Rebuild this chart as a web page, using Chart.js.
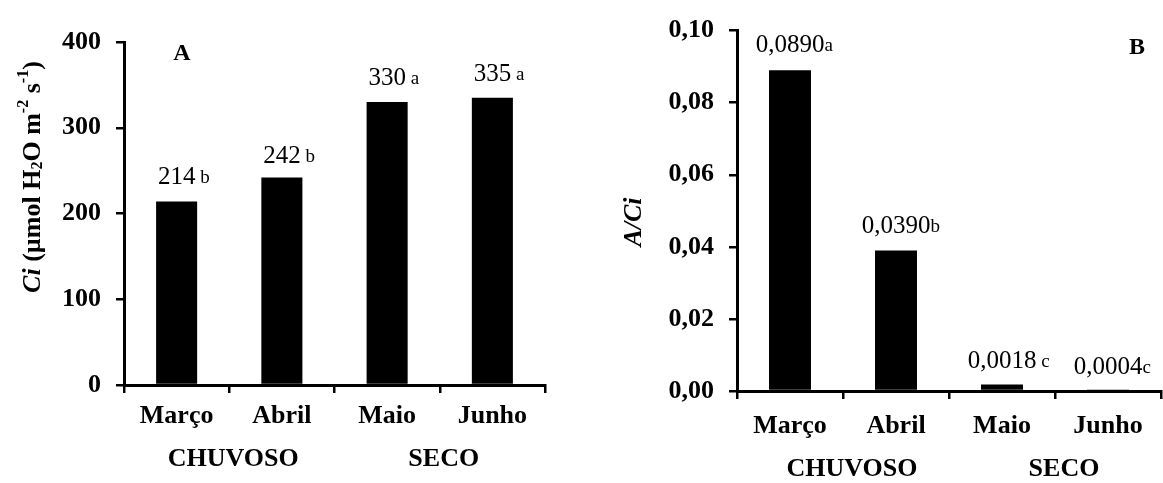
<!DOCTYPE html>
<html lang="pt-br">
<head>
  <meta charset="UTF-8" />
  <title>Ci e A/Ci - Março a Junho</title>
  <style>
    body { margin: 0; background: #fff; }
    .grafico { position: absolute; top: 0; }
  </style>
</head>
<body>
  <div class="grafico" style="left:0"><canvas id="graficoCi" width="580" height="483"></canvas></div>
  <div class="grafico" style="left:580px"><canvas id="graficoACi" width="583" height="483"></canvas></div>

<script src="https://cdn.jsdelivr.net/npm/chart.js"></script>
<script>
  const meses = ['Março', 'Abril', 'Maio', 'Junho'];
  const estacoes = ['CHUVOSO', 'SECO'];

  const valoresCi = [214, 242, 330, 335];
  const letrasCi = [' b', ' b', ' a', ' a'];
  const ticksCi = [0, 100, 200, 300, 400];

  const valoresACi = [0.0890, 0.0390, 0.0018, 0.0004];
  const letrasACi = ['a', 'b', ' c', 'c'];
  const ticksACi = [0, 0.02, 0.04, 0.06, 0.08, 0.10];

  const serif = "'Liberation Serif', 'Times New Roman', serif";

  // desenha um texto com partes em itálico / sub / sobrescrito, centrado em x
  function desenharRico(ctx, partes, tamanho) {
    const fonte = p => {
      const t = (p.sup || p.sub) ? tamanho * 0.62 : tamanho;
      return (p.i ? 'italic ' : '') + 'bold ' + t + 'px ' + serif;
    };
    let total = 0;
    partes.forEach(p => { ctx.font = fonte(p); total += ctx.measureText(p.t).width; });
    let x = -total / 2;
    partes.forEach(p => {
      ctx.font = fonte(p);
      let dy = 0;
      if (p.sup) dy = -tamanho * 0.36;
      if (p.sub) dy = tamanho * 0.2;
      ctx.fillText(p.t, x, dy);
      x += ctx.measureText(p.t).width;
    });
  }

  const pluginRotulos = {
    id: 'rotulos',
    afterDraw(chart, args, op) {
      const ctx = chart.ctx;
      const meta = chart.getDatasetMeta(0);
      const xs = chart.scales.x;
      ctx.save();
      ctx.fillStyle = '#000';
      ctx.textBaseline = 'alphabetic';

      // valores em cima das barras
      meta.data.forEach((barra, i) => {
        const txt = op.formato(chart.data.datasets[0].data[i]);
        ctx.font = op.tamValor + 'px ' + serif;
        const w = ctx.measureText(txt).width;
        ctx.textAlign = 'left';
        const y = barra.y - op.acima[i];
        ctx.fillText(txt, barra.x - w / 2, y);
        ctx.font = op.tamLetra + 'px ' + serif;
        ctx.fillText(op.letras[i], barra.x + w / 2, y - 1);
      });

      // estações
      ctx.font = 'bold 26px ' + serif;
      ctx.textAlign = 'center';
      ctx.textBaseline = 'middle';
      estacoes.forEach((e, k) => {
        const cx = (xs.getPixelForValue(2 * k) + xs.getPixelForValue(2 * k + 1)) / 2 + op.desvioEstacao;
        ctx.fillText(e, cx, op.estacaoY);
      });

      // letra do painel
      ctx.font = 'bold 24px ' + serif;
      ctx.fillText(op.painel, op.painelX, op.painelY);

      // título do eixo y (rotacionado)
      ctx.translate(op.tituloX, op.tituloY);
      ctx.rotate(-Math.PI / 2);
      ctx.textAlign = 'left';
      ctx.textBaseline = 'middle';
      desenharRico(ctx, op.titulo, 26);
      ctx.restore();
    }
  };

  function criarGrafico(id, valores, ticks, cfg) {
    const passo = ticks[1] - ticks[0];
    const config = {
      type: 'bar',
      data: {
        labels: meses,
        datasets: [{
          data: valores,
          backgroundColor: '#000',
          borderWidth: 0,
          categoryPercentage: 1,
          barPercentage: cfg.barra
        }]
      },
      options: {
        responsive: false,
        animation: false,
        layout: { padding: { top: cfg.topo, right: cfg.direita, left: 0, bottom: 0 } },
        plugins: {
          legend: { display: false },
          tooltip: { enabled: false },
          rotulos: cfg.rotulos
        },
        scales: {
          x: {
            grid: { drawOnChartArea: false, color: '#000', lineWidth: 2.5, tickLength: 8, offset: true },
            border: { color: '#000', width: 3 },
            ticks: { color: '#000', font: { family: serif, size: 26, weight: 'bold' }, padding: cfg.padX },
            afterFit: s => { s.height = cfg.alturaX; }
          },
          y: {
            min: ticks[0],
            max: ticks[ticks.length - 1],
            grid: { drawOnChartArea: false, color: '#000', lineWidth: 2.5, tickLength: 8 },
            border: { color: '#000', width: 3 },
            ticks: {
              stepSize: passo,
              color: '#000',
              padding: 15,
              font: { family: serif, size: 26, weight: 'bold' },
              callback: cfg.tickFmt
            },
            afterFit: s => { s.width = cfg.larguraY; }
          }
        }
      },
      plugins: [pluginRotulos]
    };
    return new Chart(document.getElementById(id), config);
  }

  criarGrafico('graficoCi', valoresCi, ticksCi, {
    barra: 0.39, topo: 42, direita: 35, larguraY: 124, alturaX: 98, padX: 8,
    tickFmt: v => String(v),
    rotulos: {
      formato: v => String(v),
      letras: letrasCi,
      acima: [17, 14, 17, 17],
      tamValor: 25, tamLetra: 19,
      estacaoY: 459, desvioEstacao: 4,
      painel: 'A', painelX: 182, painelY: 54,
      tituloX: 33, tituloY: 177,
      titulo: [
        { t: 'Ci', i: true }, { t: ' (µmol H' }, { t: '2', sub: true }, { t: 'O m' },
        { t: '-2', sup: true }, { t: ' s' }, { t: '-1', sup: true }, { t: ')' }
      ]
    }
  });

  criarGrafico('graficoACi', valoresACi, ticksACi, {
    barra: 0.396, topo: 23, direita: 2, larguraY: 157, alturaX: 92, padX: 12,
    tickFmt: v => v.toFixed(2).replace('.', ','),
    rotulos: {
      formato: v => v.toFixed(4).replace('.', ','),
      letras: letrasACi,
      acima: [18, 17, 17, 16],
      tamValor: 25, tamLetra: 19,
      estacaoY: 469, desvioEstacao: 9,
      painel: 'B', painelX: 557, painelY: 48,
      tituloX: 54, tituloY: 222,
      titulo: [{ t: 'A/Ci', i: true }]
    }
  });
</script>
</body>
</html>
